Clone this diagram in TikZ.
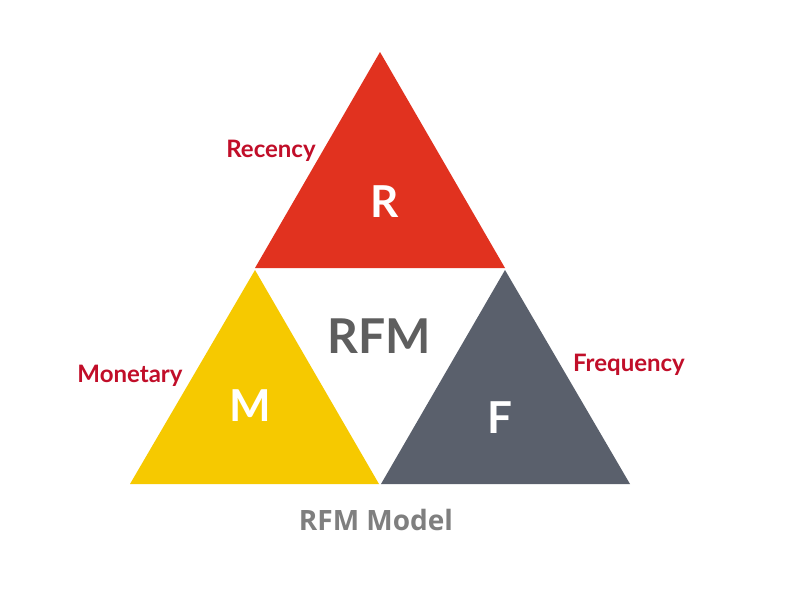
\documentclass[tikz,border=0pt]{standalone}
\usepackage{fontspec}
\setmainfont{Lato}
\newfontfamily\osans{Open Sans}
\definecolor{rred}{HTML}{E1321F}
\definecolor{ryel}{HTML}{F6C900}
\definecolor{rgry}{HTML}{5A606C}
\definecolor{lblred}{HTML}{C10E29}
\definecolor{ctxt}{HTML}{5E5E5E}
\definecolor{mtxt}{HTML}{7F7F7F}
\tikzset{
  tri/.style={draw=none},
  lbl/.style={text=lblred, font=\bfseries\fontsize{24}{28}\selectfont},
  big/.style={text=white, font=\bfseries\fontsize{44}{48}\selectfont},
}
\begin{document}
\begin{tikzpicture}[x=1pt,y=-1pt]
\useasboundingbox (0,0) rectangle (800,600);
\fill[white] (0,0) rectangle (800,600);
\coordinate (rA) at (380,52);
\coordinate (rL) at (255,268);
\coordinate (rR) at (505,268);
\coordinate (mA) at (255,270);
\coordinate (mL) at (130,484);
\coordinate (mR) at (379,484);
\coordinate (fA) at (505,270);
\coordinate (fL) at (381,484);
\coordinate (fR) at (630,484);
\fill[rred] (rA) -- (rL) -- (rR) -- cycle;
\fill[ryel] (mA) -- (mL) -- (mR) -- cycle;
\fill[rgry] (fA) -- (fL) -- (fR) -- cycle;
\node[big] (R) at (385,202) {R};
\node[big] (M) at (250,406) {M};
\node[big] (F) at (500,418) {F};
\node[text=ctxt, font=\bfseries\fontsize{48}{52}\selectfont] (RFM) at (379,336) {RFM};
\node[lbl] (rec) at (271,151) {Recency};
\node[lbl] (mon) at (130,376) {Monetary};
\node[lbl] (fre) at (629,365) {Frequency};
\node[text=mtxt, font=\osans\bfseries\fontsize{28}{32}\selectfont] (title) at (376,520) {RFM Model};
\end{tikzpicture}
\end{document}
